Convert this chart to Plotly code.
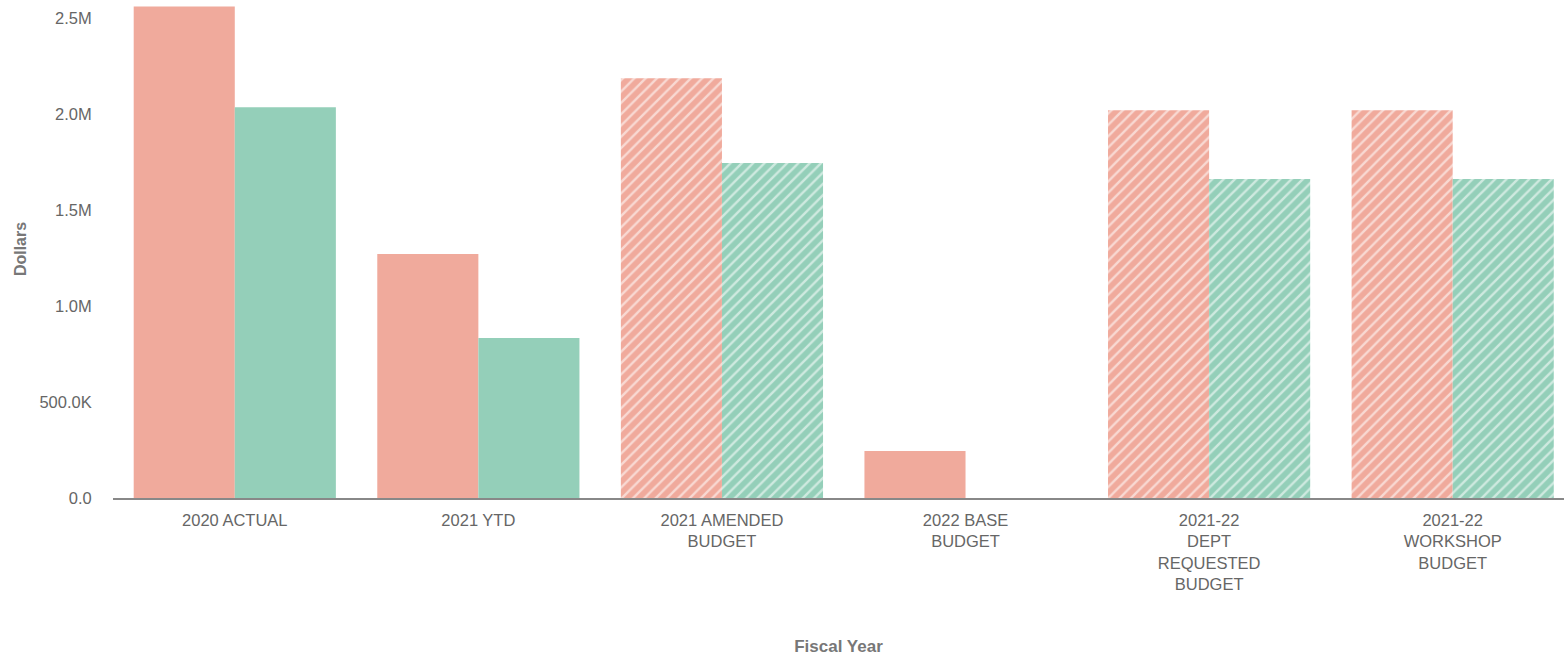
import plotly.graph_objects as go

categories = ["2020 ACTUAL", "2021 YTD", "2021 AMENDED<br>BUDGET", "2022 BASE<br>BUDGET",
              "2021-22<br>DEPT<br>REQUESTED<br>BUDGET", "2021-22<br>WORKSHOP<br>BUDGET"]
series_a = [2560000, 1271000, 2187000, 245000, 2020000, 2020000]
series_b = [2036000, 833000, 1745000, 0, 1661000, 1661000]
hatch = ["", "", "/", "", "/", "/"]
tick_vals = [0, 500000, 1000000, 1500000, 2000000, 2500000]
tick_text = ["0.0", "500.0K", "1.0M", "1.5M", "2.0M", "2.5M"]

font_family = "Liberation Sans, Arial, sans-serif"

fig = go.Figure()
for vals, color in [(series_a, "#F0AA9C"), (series_b, "#94CFB9")]:
    fig.add_trace(go.Bar(
        x=categories, y=vals,
        marker=dict(color=color, line=dict(width=0),
                    pattern=dict(shape=hatch, fgcolor="white", fgopacity=0.55,
                                 size=8, solidity=0.3, fillmode="overlay")),
        showlegend=False,
    ))

fig.update_layout(
    width=1564, height=656,
    margin=dict(l=113, r=0, t=0, b=158),
    barmode="group", bargap=0.17, bargroupgap=0,
    plot_bgcolor="white", paper_bgcolor="white",
    font=dict(family=font_family, size=17, color="#666666"),
    xaxis=dict(
        title=dict(text="<b>Fiscal Year</b>", font=dict(size=17, color="#777777"), standoff=48),
        range=[-0.5, 5.457],
        showline=True, linecolor="#888888", linewidth=2, showgrid=False,
        ticks="outside", ticklen=6, tickcolor="rgba(0,0,0,0)",
        tickfont=dict(size=16.5, color="#666666"),
    ),
    yaxis=dict(
        title=dict(text="<b>Dollars</b>", font=dict(size=16, color="#777777"), standoff=8),
        range=[0, 2594000], tickvals=tick_vals, ticktext=tick_text,
        showgrid=False, zeroline=False, showline=False,
        ticks="outside", ticklen=17, tickcolor="rgba(0,0,0,0)",
        tickfont=dict(size=16.5, color="#666666"),
    ),
)

fig.write_html("out.html")
